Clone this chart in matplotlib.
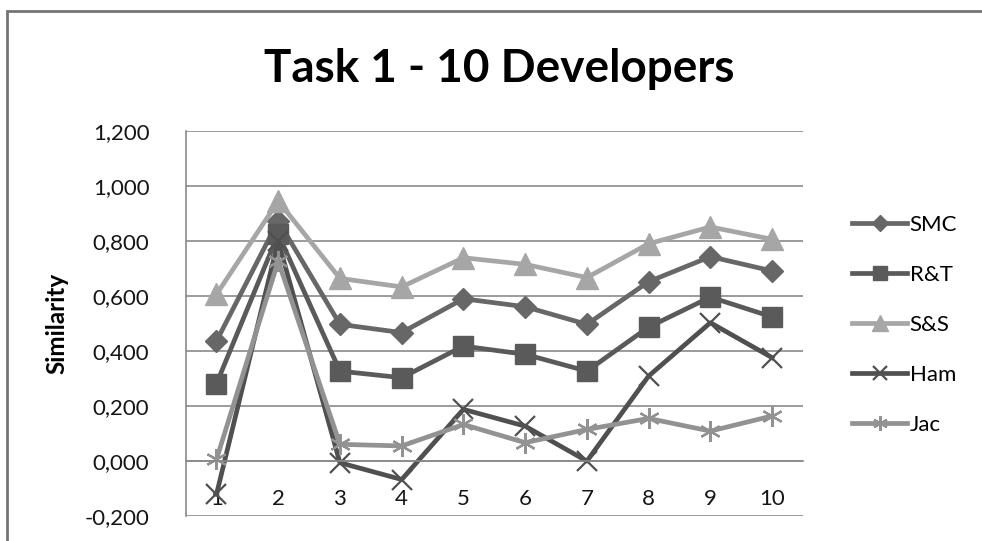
import matplotlib
matplotlib.use("Agg")
import matplotlib.pyplot as plt
from matplotlib.patches import Rectangle
from matplotlib.ticker import FuncFormatter

plt.rcParams["font.family"] = ["Lato", "DejaVu Sans"]

developers = [1, 2, 3, 4, 5, 6, 7, 8, 9, 10]
smc = [0.436, 0.873, 0.497, 0.467, 0.590, 0.561, 0.497, 0.652, 0.743, 0.691]
rt = [0.281, 0.825, 0.327, 0.303, 0.418, 0.388, 0.327, 0.487, 0.596, 0.524]
ss = [0.606, 0.945, 0.664, 0.633, 0.739, 0.715, 0.667, 0.790, 0.851, 0.806]
ham = [-0.121, 0.800, -0.006, -0.067, 0.188, 0.127, 0.000, 0.309, 0.503, 0.376]
jac = [0.006, 0.727, 0.061, 0.055, 0.133, 0.067, 0.115, 0.155, 0.109, 0.164]
y_ticks = [-0.2, 0.0, 0.2, 0.4, 0.6, 0.8, 1.0, 1.2]

series = [
    ("SMC", smc, dict(color="#676767", marker="D", markersize=11)),
    ("R&T", rt, dict(color="#5a5a5a", marker="s", markersize=15)),
    ("S&S", ss, dict(color="#a6a6a6", marker="^", markersize=16)),
    ("Ham", ham, dict(color="#505050", marker="x", markersize=14, markeredgewidth=1.6)),
    ("Jac", jac, dict(color="#929292", marker=(6, 2, 0), markersize=15, markeredgewidth=1.6)),
]

fig = plt.figure(figsize=(9.82, 5.41), dpi=100)
# outer chart frame, open to the right and bottom edges
fig.patches.append(Rectangle((0.0075, -0.05), 1.05, 1.03, transform=fig.transFigure,
                             fill=False, edgecolor="#747474", linewidth=2.0))
ax = fig.add_axes([0.189, 0.046, 0.6287, 0.712])

for name, vals, style in series:
    ax.plot(developers, vals, label=name, linewidth=3.4, **style)

ax.set_xlim(0.5, 10.5)
ax.set_ylim(-0.2, 1.2)
ax.set_yticks(y_ticks)
ax.yaxis.set_major_formatter(FuncFormatter(lambda v, _: f"{v:.3f}".replace(".", ",").replace("-0,000", "0,000")))
ax.set_xticks(developers)
ax.grid(axis="y", color="#8a8a8a", linewidth=1.2)
ax.set_axisbelow(True)

for side in ("top", "right"):
    ax.spines[side].set_visible(False)
ax.spines["left"].set_color("#8a8a8a")
ax.spines["left"].set_linewidth(1.2)
ax.spines["bottom"].set_position(("data", 0))
ax.spines["bottom"].set_color("#8a8a8a")
ax.spines["bottom"].set_linewidth(1.2)
ax.tick_params(axis="y", length=0, pad=26, labelsize=16, labelcolor="#151515")
ax.tick_params(axis="x", length=0, pad=20, labelsize=16, labelcolor="#151515")

ax.set_ylabel("Similarity", fontsize=17.5, fontweight="bold")
ax.yaxis.set_label_coords(-0.19, 0.5)

fig.text(0.508, 0.873, "Task 1 - 10 Developers", ha="center", va="center",
         fontsize=33, fontweight="bold")

ax.legend(loc="center left", bbox_to_anchor=(0.847, 0.399), bbox_transform=fig.transFigure,
          frameon=False, fontsize=16, handlelength=2.5, handletextpad=0.1,
          labelspacing=1.35, markerscale=0.7)

fig.savefig("out.png", dpi=100)
